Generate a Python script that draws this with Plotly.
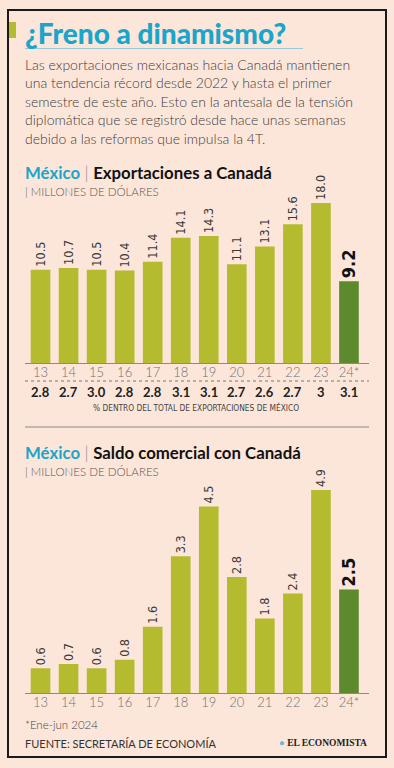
import plotly.graph_objects as go

W, H = 394, 768

years = ["13", "14", "15", "16", "17", "18", "19", "20", "21", "22", "23", "24*"]
exports = [10.5, 10.7, 10.5, 10.4, 11.4, 14.1, 14.3, 11.1, 13.1, 15.6, 18.0, 9.2]
share_pct = ["2.8", "2.7", "3.0", "2.8", "2.8", "3.1", "3.1", "2.7", "2.6", "2.7", "3", "3.1"]
balance = [0.6, 0.7, 0.6, 0.8, 1.6, 3.3, 4.5, 2.8, 1.8, 2.4, 4.9, 2.5]

BG = "#FCE6D9"
OLIVE = "#B4BB2F"
DARK = "#5C8A2D"
BLUE = "#1AA5CB"
NUMFONT = "Liberation Sans Narrow, DejaVu Sans Condensed, Roboto"
LIGHT = "Lato"


def px(xp):
    return xp / W


def py(yp):
    return 1 - yp / H


def labels(vals):
    out = [f"{v:.1f}" for v in vals]
    out[-1] = f"<b>{out[-1]}</b>"
    return out


def colors(vals):
    return [OLIVE] * (len(vals) - 1) + [DARK]


def tsizes(vals):
    return [12.5] * (len(vals) - 1) + [18]


def tcolors(vals):
    return ["#3a3a3a"] * (len(vals) - 1) + ["#111111"]


fig = go.Figure()
for i, vals in enumerate([exports, balance]):
    ax = "" if i == 0 else "2"
    fig.add_trace(go.Bar(
        x=years, y=vals, xaxis="x" + ax, yaxis="y" + ax,
        marker=dict(color=colors(vals), line=dict(width=0)),
        width=0.7,
        text=labels(vals), textposition="outside", textangle=-90,
        textfont=dict(family=NUMFONT, size=tsizes(vals), color=tcolors(vals)),
        constraintext="none", cliponaxis=False, hoverinfo="skip",
    ))

xdom = [px(26.5), px(363)]
xcommon = dict(domain=xdom, type="category", categoryorder="array", categoryarray=years,
               range=[-0.5, 11.5], showgrid=False, zeroline=False, showline=False,
               ticks="", tickfont=dict(family=LIGHT, size=13, color="#707070", weight=300),
               fixedrange=True)
ycommon = dict(showgrid=False, zeroline=False, showline=False, showticklabels=False, ticks="",
               fixedrange=True)

fig.update_layout(
    width=W, height=H, margin=dict(l=0, r=0, t=0, b=0),
    paper_bgcolor=BG, plot_bgcolor="rgba(0,0,0,0)",
    showlegend=False, bargap=0.3,
    xaxis=dict(**xcommon, anchor="y"),
    yaxis=dict(**ycommon, domain=[py(363), py(203)], range=[0, 18.0]),
    xaxis2=dict(**xcommon, anchor="y2"),
    yaxis2=dict(**ycommon, domain=[py(693), py(490)], range=[0, 4.9]),
)

shapes = [
    # border
    dict(type="rect", xref="paper", yref="paper", x0=px(8), x1=px(386), y0=py(757), y1=py(10),
         line=dict(color="#1a1a1a", width=2)),
    # green accent
    dict(type="rect", xref="paper", yref="paper", x0=px(9), x1=px(16), y0=py(38), y1=py(22),
         line=dict(width=0), fillcolor=OLIVE),
    # title underline
    dict(type="line", xref="paper", yref="paper", x0=px(25), x1=px(303), y0=py(48.5), y1=py(48.5),
         line=dict(color="#9CC9D8", width=1)),
    # baselines
    dict(type="line", xref="paper", yref="paper", x0=px(25), x1=px(369), y0=py(363.5), y1=py(363.5),
         line=dict(color="#8a8a8a", width=1)),
    dict(type="line", xref="paper", yref="paper", x0=px(25), x1=px(369), y0=py(693.5), y1=py(693.5),
         line=dict(color="#8a8a8a", width=1)),
    # dotted line
    dict(type="line", xref="paper", yref="paper", x0=px(25), x1=px(369), y0=py(381), y1=py(381),
         line=dict(color="#777777", width=1, dash="dot")),
    # separator
    dict(type="line", xref="paper", yref="paper", x0=px(25), x1=px(369), y0=py(427), y1=py(427),
         line=dict(color="#888888", width=1)),
]

ann = []


def text(x, y, s, size, color="#333", family=LIGHT, weight=None, xanchor="left"):
    f = dict(family=family, size=size, color=color)
    if weight:
        f["weight"] = weight
    ann.append(dict(xref="paper", yref="paper", x=px(x), y=py(y), text=s, showarrow=False,
                    xanchor=xanchor, yanchor="middle", font=f, align="left"))


text(23, 33, "¿Freno a dinamismo?", 28, BLUE, "Lato", 900)
para = [
    "Las exportaciones mexicanas hacia Canadá mantienen",
    "una tendencia récord desde 2022 y hasta el primer",
    "semestre de este año. Esto en la antesala de la tensión",
    "diplomática que se registró desde hace unas semanas",
    "debido a las reformas que impulsa la 4T.",
]
for i, line in enumerate(para):
    text(23, 64 + i * 18.6, line, 14, "#3c3c3c", "Lato", 300)

for ty, title in [(172, "Exportaciones a Canadá"), (452, "Saldo comercial con Canadá")]:
    text(23, ty,
         f"<span style='color:{BLUE}'><b>México</b></span>"
         f"<span style='color:#888;font-weight:300'> | </span><b>{title}</b>",
         16.8, "#111", "Lato")
    text(23, ty + 19.5, "| MILLONES DE DÓLARES", 11.5, "#555", "Lato", 300)

for i, p in enumerate(share_pct):
    ann.append(dict(xref="x", yref="paper", x=i, y=py(392), text=f"<b>{p}</b>", showarrow=False,
                    xanchor="center", yanchor="middle",
                    font=dict(family="Lato", size=13, color="#222")))

text(196, 407, "% DENTRO DEL TOTAL DE EXPORTACIONES DE MÉXICO", 8.3, "#444", NUMFONT, None, "center")

text(23, 724, "*Ene-jun 2024", 11.5, "#444", "Lato", 300)
text(23, 743, "FUENTE: SECRETARÍA DE ECONOMÍA", 11, "#333", "Lato", 400)
text(369, 743, "<span style='color:#6FB6D6'>●</span> EL ECONOMISTA", 9.5, "#222", "Liberation Serif", 700, "right")

fig.update_layout(shapes=shapes, annotations=ann)
fig.write_html("out.html", config={"displayModeBar": False, "staticPlot": True},
               post_script="document.body.style.margin='0px';document.body.style.overflow='hidden';")
